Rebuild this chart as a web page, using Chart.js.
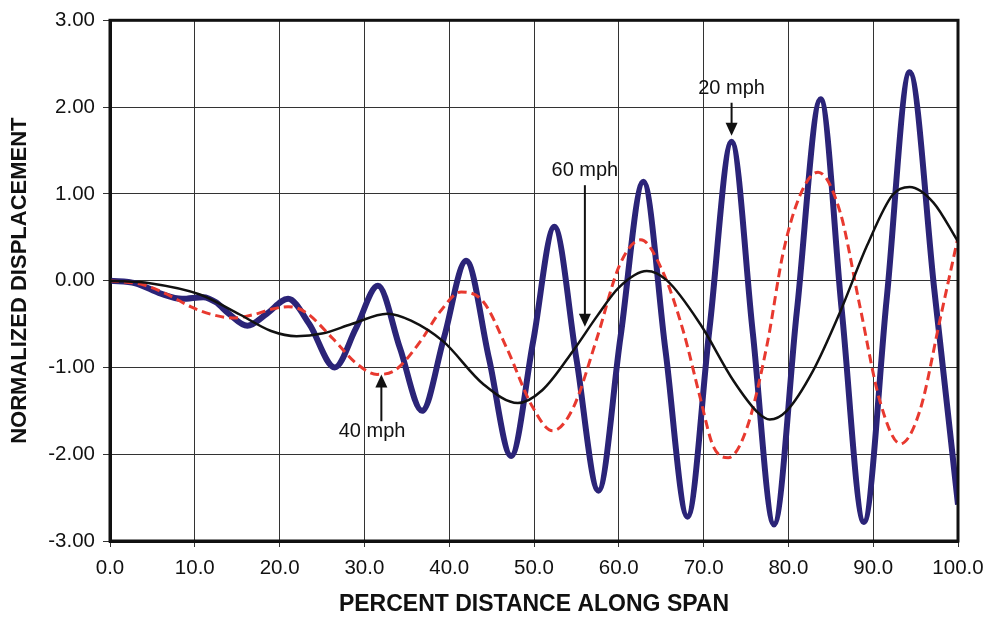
<!DOCTYPE html>
<html>
<head>
<meta charset="utf-8">
<script src="https://cdn.jsdelivr.net/npm/chart.js@4.4.1/dist/chart.umd.min.js"></script>
<style>
  html, body { margin: 0; padding: 0; background: #fff; }
  #chartArea { width: 987px; height: 617px; }
</style>
</head>
<body>
<div id="chartArea"><canvas id="chartArea-canvas"></canvas></div>
<script>
    // valeurs (x = % de la portée, y = déplacement normalisé)
    const mph20X = [0, 3, 6, 8.5, 11, 12.5, 14, 16.2, 18.5, 21, 23.5, 26.5, 29, 31.6, 34.2, 36.8, 39.4, 42, 44.7, 47.3, 49.9, 52.4, 55, 57.6, 60.2, 62.9, 65.5, 68.1, 70.7, 73.3, 75.8, 78.3, 81, 83.8, 86.3, 88.9, 91.6, 94.3, 97.2, 100];
    const mph20Y = [0, -0.03, -0.15, -0.21, -0.19, -0.25, -0.38, -0.52, -0.38, -0.21, -0.5, -1.0, -0.55, -0.06, -0.78, -1.5, -0.65, 0.23, -0.9, -2.02, -0.7, 0.62, -0.9, -2.42, -0.65, 1.14, -0.8, -2.72, -0.55, 1.6, -0.6, -2.81, -0.35, 2.09, -0.35, -2.78, -0.2, 2.4, -0.1, -2.58];

    const mph40X = [0, 4, 7, 9.5, 12, 14.5, 17, 19, 21, 23, 26.3, 29, 31.5, 33.5, 36.6, 38.9, 41.4, 44, 46.8, 49.8, 52.2, 54.6, 57.4, 60.1, 62.6, 65.2, 67.6, 69.6, 71.1, 72.9, 75.1, 77.5, 79.4, 81.4, 83.5, 86.1, 88.4, 90.8, 93.2, 95.5, 97.9, 100];
    const mph40Y = [0, -0.05, -0.17, -0.3, -0.39, -0.43, -0.39, -0.33, -0.3, -0.36, -0.67, -0.95, -1.08, -1.04, -0.7, -0.36, -0.13, -0.24, -0.78, -1.45, -1.73, -1.47, -0.67, 0.18, 0.47, 0.1, -0.58, -1.35, -1.9, -2.04, -1.7, -0.73, 0.33, 0.99, 1.25, 0.79, -0.28, -1.39, -1.88, -1.5, -0.44, 0.5];

    const mph60X = [0, 4.7, 10.6, 15.3, 19, 22, 25, 28.5, 32.7, 35.5, 39.3, 44, 48.1, 51, 54.6, 57.5, 60, 63.3, 65.7, 69.6, 73.5, 76.5, 77.8, 79.8, 82.9, 86.1, 89.3, 92.3, 94.3, 97.1, 100];
    const mph60Y = [0, -0.03, -0.16, -0.39, -0.58, -0.64, -0.61, -0.5, -0.38, -0.46, -0.7, -1.19, -1.41, -1.26, -0.81, -0.4, -0.08, 0.11, 0.0, -0.5, -1.15, -1.53, -1.6, -1.5, -1.04, -0.36, 0.41, 0.99, 1.08, 0.9, 0.45];

    // étiquettes avec flèches (en unités du graphique)
    const arrowLabels = ['20 mph', '60 mph', '40 mph'];
    const arrowX      = [73.3, 56.0, 32.0];
    const textX       = [73.3, 56.0, 30.9];
    const textY       = [2.21, 1.27, -1.74];
    const arrowFrom   = [2.05, 1.10, -1.62];
    const arrowTo     = [1.67, -0.53, -1.08];

    const fontFamily = "'Liberation Sans', Arial, sans-serif";

    function toPoints(xs, ys) {
        let pts = [];
        for (let i = 0; i < xs.length; i++) pts.push({x: xs[i], y: ys[i]});
        return pts;
    }

    // cadre épais + flèches
    const framePlugin = {
        id: 'frame',
        afterDatasetsDraw(chart) {
            const ctx = chart.ctx;
            const a = chart.chartArea;
            const sx = chart.scales.x, sy = chart.scales.y;
            ctx.save();
            ctx.strokeStyle = '#111';
            ctx.lineWidth = 3;
            ctx.strokeRect(a.left, a.top, a.right - a.left, a.bottom - a.top);

            ctx.fillStyle = '#111';
            ctx.font = '20px ' + fontFamily;
            ctx.textAlign = 'center';
            ctx.textBaseline = 'middle';
            for (let i = 0; i < arrowLabels.length; i++) {
                ctx.fillText(arrowLabels[i], sx.getPixelForValue(textX[i]), sy.getPixelForValue(textY[i]));
                const px = sx.getPixelForValue(arrowX[i]);
                const y0 = sy.getPixelForValue(arrowFrom[i]);
                const y1 = sy.getPixelForValue(arrowTo[i]);
                const dir = y1 > y0 ? 1 : -1;
                ctx.lineWidth = 2;
                ctx.beginPath();
                ctx.moveTo(px, y0);
                ctx.lineTo(px, y1 - dir * 10);
                ctx.stroke();
                ctx.beginPath();
                ctx.moveTo(px, y1);
                ctx.lineTo(px - 6, y1 - dir * 13);
                ctx.lineTo(px + 6, y1 - dir * 13);
                ctx.closePath();
                ctx.fill();
            }
            ctx.restore();
        }
    };

    const canvas = document.getElementById('chartArea-canvas');
    const chartJs = new Chart(canvas, {
        type: 'line',
        data: {
            datasets: [
                {
                    label: '60 mph',
                    data: toPoints(mph60X, mph60Y),
                    borderColor: '#111111',
                    borderWidth: 2.5,
                    order: 1
                },
                {
                    label: '40 mph',
                    data: toPoints(mph40X, mph40Y),
                    borderColor: '#e8392f',
                    borderWidth: 3,
                    borderDash: [9, 5],
                    order: 2
                },
                {
                    label: '20 mph',
                    data: toPoints(mph20X, mph20Y),
                    borderColor: '#2b2478',
                    borderWidth: 6,
                    order: 3
                }
            ]
        },
        options: {
            responsive: true,
            maintainAspectRatio: false,
            animation: false,
            layout: { padding: { top: 18, right: 29, left: 0, bottom: 0 } },
            elements: {
                point: { radius: 0 },
                line: { cubicInterpolationMode: 'monotone', fill: false }
            },
            plugins: {
                legend: { display: false },
                tooltip: { enabled: false }
            },
            scales: {
                x: {
                    type: 'linear',
                    min: 0,
                    max: 100,
                    ticks: {
                        stepSize: 10,
                        color: '#111',
                        padding: 9,
                        maxRotation: 0,
                        font: { family: fontFamily, size: 20.5 },
                        callback: value => value.toFixed(1)
                    },
                    grid: { color: '#333', lineWidth: 1, tickLength: 6 },
                    border: { color: '#111', width: 3 },
                    title: {
                        display: true,
                        text: 'PERCENT DISTANCE ALONG SPAN',
                        color: '#111',
                        padding: { top: 0, bottom: 0 },
                        font: { family: fontFamily, size: 23, weight: 'bold', lineHeight: 1.1 }
                    },
                    afterFit: scale => {
                        scale.height = 76;
                        // le libellé « 100.0 » ne doit pas réduire la zone du graphique
                        scale.paddingRight = 0;
                        scale.paddingLeft = 0;
                    }
                },
                y: {
                    min: -3,
                    max: 3,
                    ticks: {
                        stepSize: 1,
                        color: '#111',
                        padding: 8,
                        font: { family: fontFamily, size: 20.5 },
                        callback: value => value.toFixed(2)
                    },
                    grid: { color: '#333', lineWidth: 1, tickLength: 7 },
                    border: { color: '#111', width: 3 },
                    title: {
                        display: true,
                        text: 'NORMALIZED DISPLACEMENT',
                        color: '#111',
                        padding: { top: 7, bottom: 0 },
                        font: { family: fontFamily, size: 22, weight: 'bold', lineHeight: 1.2 }
                    },
                    afterFit: scale => { scale.width = 110; }
                }
            }
        },
        plugins: [framePlugin]
    });
</script>
</body>
</html>
